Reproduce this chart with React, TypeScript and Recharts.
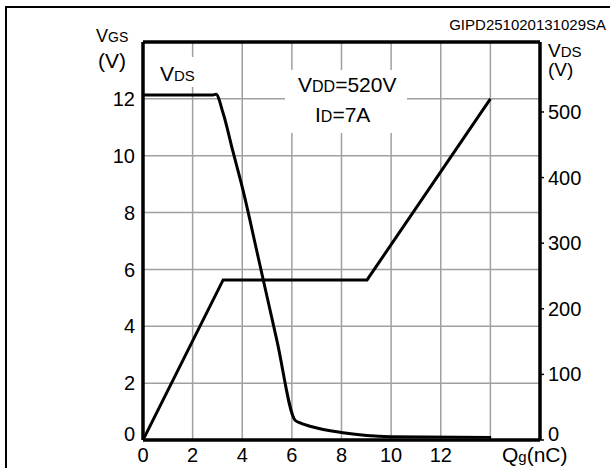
import React from 'react';
import {
  ComposedChart,
  Line,
  XAxis,
  YAxis,
  ReferenceLine,
} from 'recharts';

// gate charge (nC) / gate-source voltage (V)
const qgVgs = [0, 3.23, 9.03, 14.0];
const vgsValues = [0, 5.63, 5.63, 12.0];

// gate charge (nC) / drain-source voltage (V)
const qgVds = [0, 2.82, 2.94, 3.23, 3.63, 4.03, 4.64, 5.4, 6.13, 6.33, 6.73, 8.06, 9.96, 14.03];
const vdsValues = [526, 526, 527, 498, 439, 381, 279, 151, 30, 26, 21, 11, 5, 4];

const xTicks = [0, 2, 4, 6, 8, 10, 12, 14, 16];
const vgsTicks = [0, 2, 4, 6, 8, 10, 12, 14];
const vdsTicks = [0, 100, 200, 300, 400, 500];

const vgsData = qgVgs.map((q, i) => ({ q, vgs: vgsValues[i] }));
const vdsData = qgVds.map((q, i) => ({ q, vds: vdsValues[i] }));

const FONT = "'Liberation Sans', Arial, sans-serif";
const GRID = '#a0a0a0';

// y tick: the zero label sits a little above the axis in the original
const YTick = (props: any) => {
  const { x, y, payload, textAnchor, hideTop } = props;
  if (hideTop && payload.value >= 14) return null;
  const shift = payload.value === 0 ? -6 : 0;
  return (
    <text
      x={x}
      y={y + shift}
      dy="0.355em"
      textAnchor={textAnchor}
      fill="#000"
      fontSize={20}
      fontFamily={FONT}
    >
      {payload.value}
    </text>
  );
};

const App = () => {
  return (
    <div
      style={{
        position: 'absolute',
        left: 0,
        top: 0,
        width: 610,
        height: 468,
        fontFamily: FONT,
      }}
    >
      <ComposedChart
        width={610}
        height={468}
        margin={{ top: 42, right: 0, bottom: 0, left: 0 }}
      >
        <XAxis
          dataKey="q"
          type="number"
          domain={[0, 16]}
          ticks={xTicks}
          allowDataOverflow
          height={28}
          axisLine={{ stroke: '#000', strokeWidth: 3.5 }}
          tickLine={false}
          tick={{ fill: '#000', fontSize: 20, fontFamily: FONT }}
          tickFormatter={(v) => (v <= 12 ? String(v) : '')}
        />
        <YAxis
          orientation="left"
          domain={[0, 14]}
          ticks={vgsTicks}
          allowDataOverflow
          width={143}
          axisLine={{ stroke: '#000', strokeWidth: 3.5 }}
          tickLine={false}
          tick={<YTick hideTop />}
        />
        <YAxis
          yAxisId="right"
          orientation="right"
          domain={[0, 606.67]}
          ticks={vdsTicks}
          allowDataOverflow
          width={70}
          axisLine={{ stroke: '#000', strokeWidth: 3.5 }}
          tickLine={{ stroke: '#000', strokeWidth: 1.5 }}
          tickSize={4}
          tickMargin={4}
          tick={<YTick />}
        />

        {/* grid */}
        {xTicks.slice(1, -1).map((t) => (
          <ReferenceLine key={'gx' + t} x={t} stroke={GRID} strokeWidth={1.5} isFront />
        ))}
        {vgsTicks.slice(1, -1).map((t) => (
          <ReferenceLine key={'gy' + t} y={t} stroke={GRID} strokeWidth={1.5} isFront />
        ))}
        <ReferenceLine y={14} stroke="#000" strokeWidth={3.5} />

        <Line
          data={vgsData}
          dataKey="vgs"
          type="linear"
          stroke="#000"
          strokeWidth={3}
          dot={false}
          isAnimationActive={false}
        />
        <Line
          yAxisId="right"
          data={vdsData}
          dataKey="vds"
          type="monotoneX"
          stroke="#000"
          strokeWidth={3}
          dot={false}
          isAnimationActive={false}
        />
      </ComposedChart>

      <svg
        width={610}
        height={468}
        style={{ position: 'absolute', left: 0, top: 0, pointerEvents: 'none' }}
        fontFamily={FONT}
        fill="#000"
      >
        {/* outer frame */}
        <polyline points="6,468 6,7 610,7" fill="none" stroke="#000" strokeWidth={2} />

        <text x={606} y={30} fontSize={15} textAnchor="end">
          GIPD251020131029SA
        </text>

        {/* left axis title */}
        <text x={96} y={42}>
          <tspan fontSize={18}>V</tspan>
          <tspan fontSize={14}>GS</tspan>
        </text>
        <text x={98} y={68} fontSize={21}>(V)</text>

        {/* right axis title */}
        <text x={548} y={57}>
          <tspan fontSize={19}>V</tspan>
          <tspan fontSize={15}>DS</tspan>
        </text>
        <text x={548} y={76} fontSize={19}>(V)</text>

        {/* x axis title */}
        <text x={502} y={462}>
          <tspan fontSize={21}>Q</tspan>
          <tspan fontSize={15}>g</tspan>
          <tspan fontSize={21}>(nC)</tspan>
        </text>

        {/* in-plot labels */}
        <rect x={150} y={57} width={75} height={30} fill="#fff" />
        <text x={160} y={81}>
          <tspan fontSize={21}>V</tspan>
          <tspan fontSize={15}>DS</tspan>
        </text>

        <rect x={285} y={70} width={122} height={63} fill="#fff" />
        <text x={298} y={92}>
          <tspan fontSize={21}>V</tspan>
          <tspan fontSize={16}>DD</tspan>
          <tspan fontSize={21}>=520V</tspan>
        </text>
        <text x={315} y={122}>
          <tspan fontSize={21}>I</tspan>
          <tspan fontSize={16}>D</tspan>
          <tspan fontSize={21}>=7A</tspan>
        </text>
      </svg>
    </div>
  );
};

export default App;
